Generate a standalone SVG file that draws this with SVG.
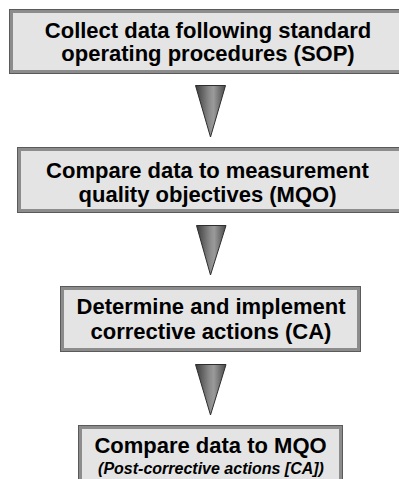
<svg xmlns="http://www.w3.org/2000/svg" width="399" height="479" viewBox="0 0 399 479">
  <defs>
    <linearGradient id="coneFill" x1="0" y1="0" x2="1" y2="0">
      <stop offset="0" stop-color="#3c3c3c"/>
      <stop offset="0.45" stop-color="#8a8a8a"/>
      <stop offset="0.6" stop-color="#9a9a9a"/>
      <stop offset="1" stop-color="#4a4a4a"/>
    </linearGradient>
    <style>
      .box { fill: #e4e4e4; stroke: #8c8c8c; stroke-width: 4; }
      .edge { fill: none; stroke: #5a5a5a; stroke-width: 1; }
      .label { font-family: "Liberation Sans", Arial, sans-serif; font-weight: bold; font-size: 22px; fill: #000; text-anchor: middle; }
      .sub { font-family: "Liberation Sans", Arial, sans-serif; font-weight: bold; font-style: italic; font-size: 16px; fill: #000; text-anchor: middle; }
      .cone { fill: url(#coneFill); stroke: #2e2e2e; stroke-width: 1; stroke-linejoin: miter; }
    </style>
  </defs>

  <g id="connectors">
    <polygon class="cone" points="195.5,85.5 225.5,85.5 210.5,137"/>
    <polygon class="cone" points="196.5,225.5 226,225.5 210.5,275"/>
    <polygon class="cone" points="195.5,364.5 226,364.5 210.5,415"/>
  </g>

  <g id="collect">
    <rect class="box" x="11" y="11" width="400" height="61"/>
    <rect class="edge" x="9.5" y="9.5" width="403" height="64"/>
    <text class="label" x="208" y="37.5">Collect data following standard</text>
    <text class="label" x="208" y="61">operating procedures (SOP)</text>
  </g>

  <g id="compare-mqo">
    <rect class="box" x="19" y="149" width="390" height="62"/>
    <rect class="edge" x="17.5" y="147.5" width="393" height="65"/>
    <text class="label" x="207.5" y="178">Compare data to measurement</text>
    <text class="label" x="207.5" y="202">quality objectives (MQO)</text>
  </g>

  <g id="corrective">
    <rect class="box" x="62" y="288" width="297" height="62"/>
    <rect class="edge" x="60.5" y="286.5" width="300" height="65"/>
    <text class="label" x="211" y="314">Determine and implement</text>
    <text class="label" x="211" y="339">corrective actions (CA)</text>
  </g>

  <g id="post-ca">
    <rect class="box" x="80" y="427" width="261" height="62"/>
    <rect class="edge" x="78.5" y="425.5" width="264" height="65"/>
    <text class="label" x="210.5" y="453">Compare data to MQO</text>
    <text class="sub" x="211" y="474">(Post-corrective actions [CA])</text>
  </g>
</svg>
